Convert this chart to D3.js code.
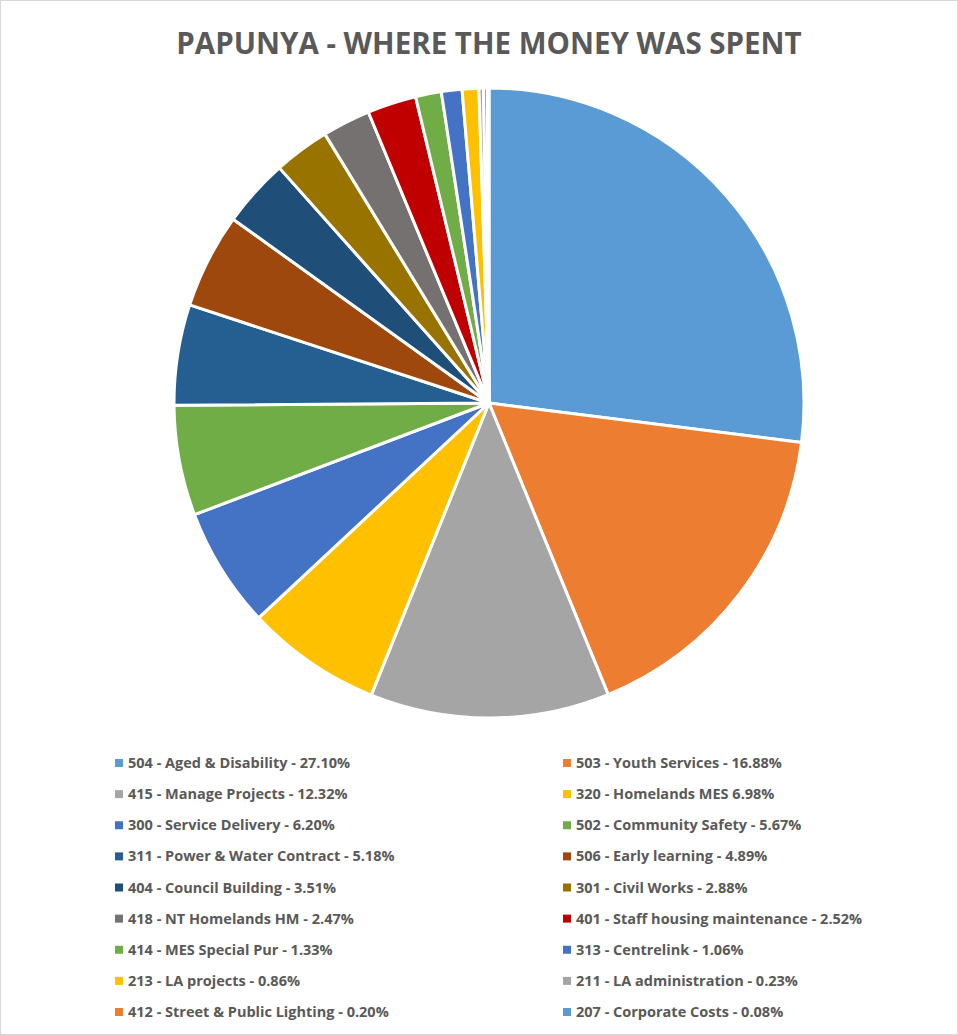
<!DOCTYPE html>
<html lang="en">
<head>
<meta charset="UTF-8">
<title>Papunya - Where the money was spent</title>
<style>
    body { margin: 0; background: #fff; font-family: 'Open Sans', sans-serif; }
    .title { font-weight: bold; font-size: 29.5px; fill: #595959; }
    .legend-label { font-weight: bold; font-size: 14.5px; fill: #595959; }
</style>
</head>
<body>
<svg id="chart"></svg>
<script src="https://d3js.org/d3.v7.min.js"></script>
<script>
    // Data
    const categories = [
        '504 - Aged & Disability', '503 - Youth Services', '415 - Manage Projects', '320 - Homelands MES',
        '300 - Service Delivery', '502 - Community Safety', '311 - Power & Water Contract', '506 - Early learning',
        '404 - Council Building', '301 - Civil Works', '418 - NT Homelands HM', '401 - Staff housing maintenance',
        '414 - MES Special Pur', '313 - Centrelink', '213 - LA projects', '211 - LA administration',
        '412 - Street & Public Lighting', '207 - Corporate Costs'
    ];
    const shares = [27.10, 16.88, 12.32, 6.98, 6.20, 5.67, 5.18, 4.89, 3.51, 2.88, 2.47, 2.52, 1.33, 1.06, 0.86, 0.23, 0.20, 0.08];
    const legendLabels = [
        '504 - Aged & Disability - 27.10%', '503 - Youth Services - 16.88%', '415 - Manage Projects - 12.32%',
        '320 - Homelands MES 6.98%', '300 - Service Delivery - 6.20%', '502 - Community Safety - 5.67%',
        '311 - Power & Water Contract - 5.18%', '506 - Early learning - 4.89%', '404 - Council Building - 3.51%',
        '301 - Civil Works - 2.88%', '418 - NT Homelands HM - 2.47%', '401 - Staff housing maintenance - 2.52%',
        '414 - MES Special Pur - 1.33%', '313 - Centrelink - 1.06%', '213 - LA projects - 0.86%',
        '211 - LA administration - 0.23%', '412 - Street & Public Lighting - 0.20%', '207 - Corporate Costs - 0.08%'
    ];
    const colors = [
        '#5B9BD5', '#ED7D31', '#A5A5A5', '#FFC000', '#4472C4', '#70AD47', '#255E91', '#9E480E', '#1F4E79',
        '#997300', '#767171', '#C00000', '#70AD47', '#4472C4', '#FFC000', '#A5A5A5', '#ED7D31', '#5B9BD5'
    ];

    const width = 958, height = 1035;
    const cx = 489, cy = 403, radius = 315;

    const svg = d3.select('#chart').attr('width', width).attr('height', height);

    // frame
    svg.append('rect')
        .attr('x', 0.5).attr('y', 0.5)
        .attr('width', width - 1).attr('height', height - 1)
        .attr('fill', 'none').attr('stroke', '#d9d9d9');

    svg.append('text')
        .attr('class', 'title')
        .attr('x', cx).attr('y', 54)
        .attr('text-anchor', 'middle')
        .text('PAPUNYA - WHERE THE MONEY WAS SPENT');

    const data = categories.map((c, i) => ({ name: c, value: shares[i], color: colors[i] }));

    const pie = d3.pie().sort(null).value(d => d.value);
    const arc = d3.arc().innerRadius(0).outerRadius(radius);

    svg.append('g')
        .attr('transform', `translate(${cx},${cy})`)
        .selectAll('path')
        .data(pie(data))
        .join('path')
        .attr('d', arc)
        .attr('fill', d => d.data.color)
        .attr('stroke', '#fff')
        .attr('stroke-width', 3)
        .attr('stroke-linejoin', 'round');

    // Legend: two columns, filled row by row
    const colX = d3.scalePoint().domain([0, 1]).range([115, 563]);
    const rowY = d3.scaleLinear().domain([0, 8]).range([763, 1012]);

    const legend = svg.append('g')
        .selectAll('g')
        .data(data)
        .join('g')
        .attr('transform', (d, i) => `translate(${colX(i % 2)},${rowY(Math.floor(i / 2))})`);

    legend.append('rect')
        .attr('x', 0).attr('y', -4)
        .attr('width', 8).attr('height', 8)
        .attr('fill', d => d.color);

    legend.append('text')
        .attr('class', 'legend-label')
        .attr('x', 13).attr('dy', '0.35em')
        .text((d, i) => legendLabels[i]);
</script>
</body>
</html>
